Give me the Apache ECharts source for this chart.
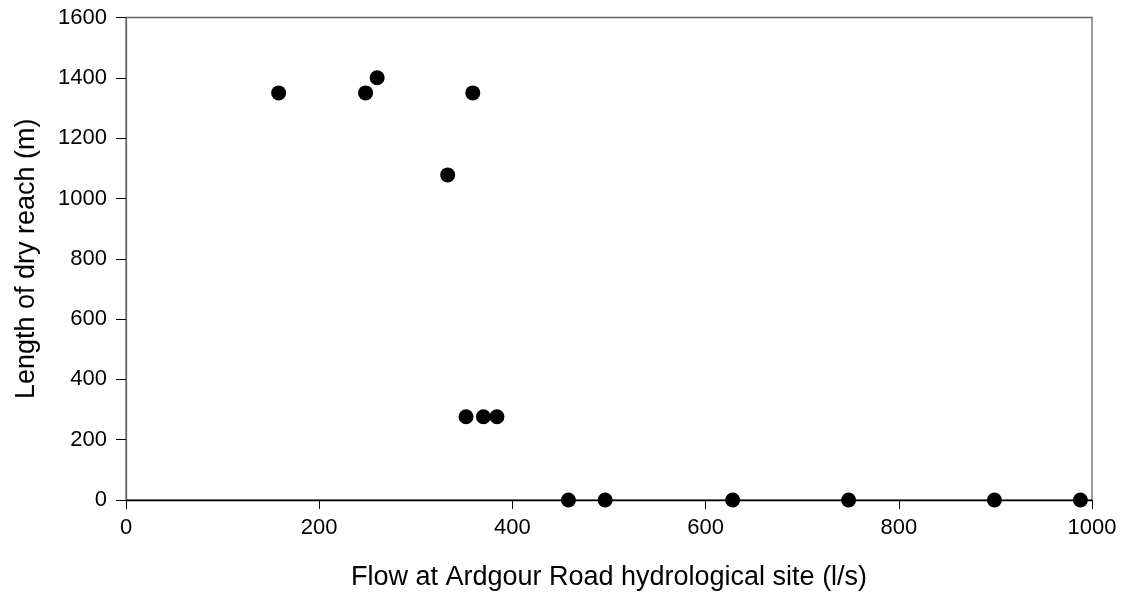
<!DOCTYPE html>
<html>
<head>
<meta charset="utf-8">
<script src="https://cdn.jsdelivr.net/npm/echarts@6/dist/echarts.min.js"></script>
<style>html,body{margin:0;padding:0;background:#fff}#c{width:1123px;height:595px}</style>
</head>
<body>
<div id="c"></div>
<script>
const flow = [158, 248, 260, 359, 333, 352, 370, 384, 458, 496, 628, 748, 899, 988];
const dryLength = [1350, 1350, 1400, 1350, 1078, 276, 276, 276, 0, 0, 0, 0, 0, 0];
const xTicks = [0, 200, 400, 600, 800, 1000];
const yTicks = [0, 200, 400, 600, 800, 1000, 1200, 1400, 1600];
const xTitle = 'Flow at Ardgour Road hydrological site (l/s)';
const yTitle = 'Length of dry reach (m)';

const font = 'Liberation Sans, Arial, sans-serif';
const chart = echarts.init(document.getElementById('c'), null, {renderer: 'canvas'});
chart.setOption({
  animation: false,
  backgroundColor: '#fff',
  grid: {left: 126, right: 31, top: 17.5, bottom: 95, show: true, borderColor: '#666', borderWidth: 1.3,
         containLabel: false, outerBoundsMode: 'none'},
  xAxis: {
    type: 'value', min: xTicks[0], max: xTicks[xTicks.length - 1], interval: 200,
    name: xTitle, nameLocation: 'middle', nameGap: 64,
    nameTextStyle: {fontFamily: font, fontSize: 27, color: '#000'},
    axisLine: {show: true, onZero: false, lineStyle: {color: '#000', width: 1.3}},
    axisTick: {show: true, inside: false, length: 9, lineStyle: {color: '#000'}},
    axisLabel: {fontFamily: font, fontSize: 22, color: '#000', margin: 17, formatter: v => String(v)},
    splitLine: {show: false}
  },
  yAxis: {
    type: 'value', min: yTicks[0], max: yTicks[yTicks.length - 1], interval: 200,
    name: yTitle, nameLocation: 'middle', nameGap: 86,
    nameTextStyle: {fontFamily: font, fontSize: 27, color: '#000'},
    axisLine: {show: true, onZero: false, lineStyle: {color: '#666', width: 1.3}},
    axisTick: {show: true, inside: false, length: 10, lineStyle: {color: '#000'}},
    axisLabel: {fontFamily: font, fontSize: 22, color: '#000', margin: 19, formatter: v => String(v)},
    splitLine: {show: false}
  },
  series: [{
    type: 'scatter',
    data: flow.map((x, i) => [x, dryLength[i]]),
    symbol: 'circle', symbolSize: 15,
    itemStyle: {color: '#000', opacity: 1},
    clip: false
  }]
});
</script>
</body>
</html>
